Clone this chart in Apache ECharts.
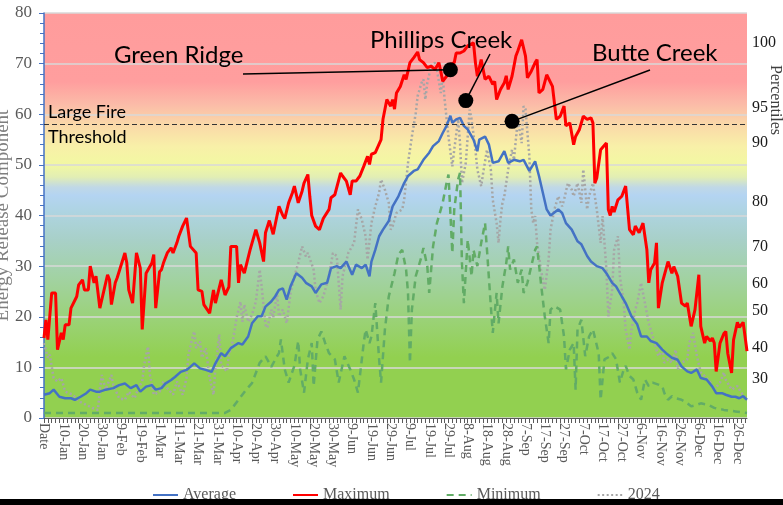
<!DOCTYPE html>
<html>
<head>
<meta charset="utf-8">
<script src="https://cdn.jsdelivr.net/npm/echarts@6/dist/echarts.min.js"></script>
<style>
  html, body { margin: 0; padding: 0; background: #fff; }
  #chart { width: 783px; height: 505px; }
</style>
</head>
<body>
<div id="chart"></div>
<script>
  // categories: first row is the "Date" header, then 1-Jan .. 31-Dec
  const monthNames = ['Jan', 'Feb', 'Mar', 'Apr', 'May', 'Jun', 'Jul', 'Aug', 'Sep', 'Oct', 'Nov', 'Dec'];
  const monthDays = [31, 28, 31, 30, 31, 30, 31, 31, 30, 31, 30, 31];
  const categories = ['Date'];
  monthDays.forEach((n, m) => {
    for (let d = 1; d <= n; d++) categories.push(d + '-' + monthNames[m]);
  });

  // [day index, ERC]
  const averagePts = [
    [0, 4.6], [3, 4.9], [5, 5.6], [8, 4.2], [11, 3.9], [14, 3.9], [16, 3.6], [19, 4.2], [22, 4.9], [24, 5.6],
    [27, 5.2], [29, 5.2], [32, 5.6], [36, 5.9], [39, 6.5], [42, 6.8], [45, 5.9], [48, 6.5], [50, 5.2], [53, 6.2],
    [56, 6.5], [58, 5.6], [61, 5.9], [63, 6.8], [66, 7.5], [68, 8.1], [71, 9.1], [74, 9.5], [76, 10.1], [78, 10.8],
    [81, 9.8], [84, 9.5], [87, 9.1], [89, 10.8], [92, 12.8], [94, 12.2], [97, 13.8], [101, 14.8], [103, 14.5], [106, 16.1],
    [108, 18.7], [111, 20.1], [113, 20.1], [115, 22.0], [118, 23.0], [120, 24.0], [122, 25.3], [124, 25.6], [126, 23.4], [128, 26.0],
    [131, 28.6], [134, 27.7], [136, 26.7], [139, 26.0], [141, 24.7], [144, 26.4], [147, 26.7], [149, 29.6], [152, 30.0], [154, 29.6],
    [157, 30.9], [160, 28.3], [162, 30.3], [165, 29.6], [167, 30.3], [169, 28.0], [170, 30.9], [172, 33.2], [174, 35.9], [176, 37.2],
    [179, 38.9], [181, 41.8], [184, 43.8], [187, 46.4], [189, 47.8], [192, 48.8], [194, 49.1], [197, 51.0], [200, 52.4], [202, 53.7],
    [205, 54.7], [207, 56.3], [209, 57.7], [211, 59.7], [212, 58.3], [214, 59.0], [216, 59.3], [218, 57.7], [220, 57.0], [223, 55.0],
    [225, 52.7], [226, 55.0], [229, 55.6], [231, 54.0], [233, 50.4], [236, 50.7], [239, 52.7], [241, 50.4], [242, 50.4], [244, 51.0],
    [247, 50.7], [249, 51.0], [252, 48.8], [255, 50.7], [257, 47.8], [259, 44.5], [261, 41.2], [263, 40.0], [267, 41.2], [269, 40.5],
    [271, 38.5], [274, 37.2], [277, 34.9], [279, 34.3], [282, 32.0], [284, 30.9], [287, 30.0], [290, 29.6], [292, 28.6], [295, 26.7],
    [297, 26.0], [300, 24.0], [302, 22.7], [305, 20.1], [308, 18.5], [310, 16.1], [313, 16.1], [315, 15.2], [318, 14.8], [321, 13.5],
    [323, 12.8], [326, 11.9], [329, 11.5], [331, 10.2], [334, 9.2], [336, 8.9], [339, 9.6], [341, 7.9], [344, 7.6], [347, 6.2],
    [349, 4.9], [352, 4.9], [354, 4.6], [357, 4.2], [359, 4.2], [361, 3.9], [363, 4.3], [365, 3.6]
  ];

  const maximumPts = [
    [0, 15.8], [1, 19.4], [2, 15.5], [4, 24.7], [6, 24.7], [7, 13.5], [8, 13.2], [9, 16.8], [10, 15.5], [11, 18.4],
    [13, 18.4], [14, 21.7], [17, 24.0], [18, 26.3], [20, 27.3], [21, 25.3], [23, 25.3], [24, 30.0], [25, 29.9], [26, 26.7],
    [27, 28.0], [29, 21.7], [30, 21.4], [33, 28.3], [34, 27.3], [35, 22.4], [37, 26.7], [38, 27.7], [42, 32.6], [43, 30.6],
    [44, 25.3], [46, 22.7], [48, 32.6], [50, 29.6], [51, 17.5], [53, 28.6], [56, 30.6], [57, 32.3], [58, 21.7], [60, 28.9],
    [61, 29.3], [62, 30.6], [63, 30.6], [64, 32.6], [66, 33.6], [67, 32.6], [69, 34.6], [70, 35.9], [71, 35.6], [72, 37.9],
    [74, 39.5], [76, 33.9], [77, 33.6], [79, 32.6], [80, 25.3], [82, 25.0], [83, 22.4], [84, 22.7], [86, 20.7], [88, 25.3],
    [89, 22.7], [90, 23.0], [92, 27.3], [94, 24.3], [96, 25.9], [97, 33.9], [100, 33.9], [101, 26.7], [102, 30.3], [104, 28.6],
    [107, 33.2], [110, 37.2], [112, 34.6], [114, 30.9], [115, 36.6], [117, 39.0], [119, 36.3], [121, 40.0], [122, 41.8], [124, 40.0],
    [125, 39.4], [127, 42.5], [129, 44.5], [130, 45.8], [132, 42.5], [134, 44.8], [135, 46.4], [137, 48.1], [138, 43.8], [139, 40.0],
    [141, 37.9], [143, 37.2], [145, 39.4], [148, 41.2], [149, 43.5], [151, 44.1], [154, 48.4], [155, 47.8], [157, 46.8], [159, 44.1],
    [160, 46.8], [162, 46.8], [164, 47.8], [166, 49.7], [168, 51.7], [169, 50.1], [170, 52.1], [172, 52.4], [173, 52.7], [175, 55.0],
    [176, 59.0], [178, 62.9], [180, 61.6], [181, 62.9], [182, 61.0], [183, 64.2], [185, 65.5], [187, 67.8], [188, 66.9], [190, 70.2],
    [192, 71.2], [194, 72.3], [195, 70.8], [197, 70.2], [199, 69.2], [201, 69.5], [203, 68.8], [205, 70.2], [206, 68.5], [207, 66.5],
    [209, 67.5], [211, 69.8], [213, 70.2], [214, 72.1], [216, 72.1], [218, 72.5], [220, 73.5], [221, 73.2], [223, 74.1], [224, 70.2],
    [225, 67.5], [227, 70.8], [229, 66.9], [231, 67.5], [233, 65.9], [234, 66.5], [235, 62.9], [237, 64.9], [239, 66.2], [240, 67.6],
    [241, 64.9], [243, 67.5], [245, 71.5], [246, 72.5], [248, 74.7], [250, 71.5], [251, 67.2], [253, 68.5], [255, 70.2], [256, 70.8],
    [257, 64.2], [259, 64.9], [261, 67.8], [262, 67.5], [264, 65.5], [266, 59.0], [267, 59.0], [268, 59.6], [270, 61.6], [271, 57.7],
    [273, 58.3], [275, 54.0], [276, 55.6], [278, 57.0], [280, 59.6], [282, 59.0], [284, 59.3], [285, 58.3], [286, 46.4], [287, 47.4],
    [289, 53.0], [292, 54.3], [293, 41.2], [294, 40.0], [295, 41.8], [296, 40.7], [298, 43.1], [300, 43.8], [302, 45.8], [304, 37.2],
    [306, 36.2], [307, 37.9], [309, 36.6], [311, 38.5], [313, 33.3], [314, 26.7], [315, 29.3], [317, 30.6], [318, 34.6], [319, 21.7],
    [321, 26.7], [324, 30.9], [326, 28.6], [327, 29.9], [329, 28.0], [331, 22.7], [333, 22.1], [334, 22.7], [336, 18.1], [338, 21.4],
    [340, 28.3], [341, 18.1], [343, 14.8], [344, 16.1], [346, 15.2], [347, 15.8], [348, 14.8], [349, 9.2], [351, 14.8], [353, 16.7],
    [354, 17.1], [355, 12.8], [357, 8.9], [358, 15.4], [360, 18.9], [361, 17.9], [363, 18.9], [365, 13.2]
  ];

  const minimumPts = [
    [0, 1.0], [20, 1.0], [40, 1.0], [60, 1.0], [80, 1.0], [94, 1.0], [97, 1.6], [101, 3.6], [105, 5.6], [108, 6.9],
    [112, 10.9], [115, 12.2], [118, 10.1], [121, 12.2], [122, 12.8], [123, 15.5], [125, 9.6], [127, 7.0], [130, 10.3], [132, 15.2],
    [133, 9.6], [135, 5.0], [137, 11.6], [139, 14.8], [140, 6.3], [142, 15.5], [144, 17.1], [146, 14.8], [148, 12.8], [151, 11.6],
    [153, 7.0], [156, 12.2], [159, 9.6], [161, 7.6], [163, 5.0], [166, 14.8], [167, 17.5], [169, 14.8], [170, 16.1], [172, 22.7],
    [174, 11.6], [175, 7.0], [177, 17.5], [179, 24.0], [182, 28.6], [184, 32.3], [186, 33.2], [188, 29.3], [189, 24.7], [190, 10.9],
    [191, 21.4], [193, 28.0], [196, 31.9], [197, 33.6], [199, 30.0], [200, 24.7], [202, 33.9], [204, 38.5], [207, 42.5], [209, 46.4],
    [210, 48.1], [212, 32.6], [213, 41.2], [215, 47.1], [216, 48.4], [217, 30.6], [218, 22.7], [220, 35.2], [222, 28.0], [223, 33.2],
    [225, 30.0], [227, 34.6], [229, 38.5], [230, 33.2], [232, 22.1], [233, 16.8], [235, 24.7], [236, 18.7], [238, 26.0], [240, 30.6],
    [241, 33.9], [242, 29.3], [244, 31.3], [246, 26.7], [248, 29.3], [249, 24.7], [251, 26.7], [253, 30.0], [255, 33.2], [256, 33.9],
    [258, 26.7], [260, 20.1], [262, 14.8], [263, 21.4], [265, 22.1], [268, 21.4], [270, 16.1], [271, 9.6], [273, 13.5], [275, 14.8],
    [276, 5.6], [277, 17.5], [279, 19.4], [281, 12.2], [283, 16.1], [285, 17.5], [288, 12.8], [289, 3.6], [291, 11.6], [294, 12.2],
    [295, 12.8], [297, 11.6], [299, 7.0], [301, 9.6], [302, 10.3], [304, 8.3], [306, 7.6], [308, 5.0], [310, 3.6], [312, 7.6],
    [314, 6.3], [316, 7.0], [319, 6.6], [321, 6.3], [322, 5.0], [324, 3.6], [326, 4.3], [328, 3.9], [331, 3.6], [334, 2.9],
    [336, 2.3], [339, 2.6], [341, 2.9], [345, 2.6], [348, 2.0], [353, 1.6], [359, 1.3], [365, 1.0]
  ];

  const year2024Pts = [
    [0, 14.8], [2, 11.9], [3, 12.5], [5, 7.9], [7, 7.2], [9, 7.9], [11, 5.2], [15, 4.6], [18, 3.3], [22, 2.6],
    [25, 2.0], [28, 1.6], [29, 5.6], [30, 8.5], [32, 5.6], [35, 8.5], [36, 6.5], [39, 3.9], [42, 3.6], [44, 5.2],
    [47, 3.9], [49, 5.9], [51, 7.2], [52, 10.5], [54, 14.1], [55, 8.5], [57, 4.6], [60, 5.2], [62, 7.2], [64, 5.9],
    [67, 4.6], [69, 7.2], [72, 4.6], [74, 7.9], [75, 12.5], [77, 15.8], [78, 17.1], [79, 13.8], [81, 15.1], [82, 11.9],
    [84, 13.8], [86, 7.9], [88, 4.6], [89, 9.8], [91, 16.5], [92, 10.5], [95, 9.2], [96, 12.5], [98, 15.1], [100, 19.8],
    [102, 23.0], [103, 19.0], [104, 22.4], [106, 19.0], [108, 20.4], [110, 23.0], [112, 29.3], [113, 26.0], [115, 18.4], [116, 17.8],
    [117, 17.5], [118, 21.4], [119, 19.8], [121, 24.7], [122, 20.1], [124, 21.4], [126, 18.7], [128, 24.7], [130, 28.0], [132, 30.6],
    [134, 33.9], [136, 31.9], [137, 32.6], [140, 29.3], [141, 25.3], [143, 22.7], [145, 24.0], [148, 28.0], [150, 32.6], [152, 32.0],
    [154, 21.4], [155, 28.0], [158, 32.6], [161, 34.6], [163, 41.2], [165, 39.2], [167, 35.9], [168, 31.3], [170, 38.5], [172, 41.8],
    [174, 44.5], [175, 47.1], [177, 45.1], [179, 42.5], [180, 37.2], [181, 37.9], [183, 40.5], [186, 41.2], [187, 43.1], [189, 50.4],
    [191, 55.6], [193, 60.2], [194, 63.6], [196, 66.2], [197, 66.9], [198, 62.9], [199, 66.2], [201, 69.5], [203, 70.2], [204, 68.8],
    [206, 64.2], [207, 67.5], [208, 62.9], [209, 62.9], [210, 55.6], [212, 49.7], [213, 53.0], [215, 59.0], [216, 54.3], [217, 46.4],
    [219, 50.4], [221, 60.9], [222, 59.0], [224, 53.0], [225, 49.1], [227, 45.8], [228, 48.4], [230, 53.0], [232, 49.1], [233, 43.1],
    [235, 38.5], [236, 34.6], [237, 39.2], [238, 42.5], [239, 43.8], [241, 49.1], [243, 53.0], [244, 51.0], [246, 59.0], [248, 54.3],
    [249, 61.6], [250, 61.0], [252, 51.7], [253, 41.2], [254, 38.5], [255, 39.9], [256, 34.6], [258, 29.3], [260, 25.3], [262, 31.3],
    [263, 37.2], [265, 41.2], [267, 43.8], [269, 41.8], [270, 43.1], [272, 46.4], [274, 45.1], [275, 43.8], [277, 46.4], [279, 42.5],
    [280, 49.1], [282, 41.2], [283, 43.8], [285, 46.4], [287, 41.2], [289, 34.6], [290, 39.9], [292, 29.3], [293, 20.1], [295, 25.3],
    [296, 33.2], [298, 35.9], [299, 28.0], [301, 22.7], [302, 17.5], [304, 13.5], [305, 17.5], [307, 21.4], [308, 22.7], [310, 26.7],
    [312, 22.7], [314, 18.7], [315, 17.5], [317, 14.8], [319, 12.2], [321, 13.5], [322, 10.9], [324, 11.6], [326, 10.9], [328, 13.5],
    [329, 9.6], [331, 10.9], [334, 11.6], [335, 14.8], [337, 16.8], [339, 12.2], [341, 9.0], [343, 8.3], [346, 7.0], [348, 5.6],
    [351, 7.0], [353, 9.0], [354, 7.6], [357, 5.6], [360, 6.3], [362, 5.0], [365, 3.6]
  ];

  // right-hand percentile scale: label and the ERC value it sits at
  const pctLabels = ['100', '95', '90', '80', '70', '60', '50', '40', '30'];
  const pctErc = [74.2, 61.3, 54.4, 42.8, 33.9, 26.5, 21.1, 13.9, 7.8];

  const threshold = 58;

  // fire markers [day index, ERC]
  const fireNames = ['Green Ridge', 'Phillips Creek', 'Butte Creek'];
  const firePts = [[211, 68.8], [219, 62.7], [243, 58.6]];

  const serif = 'Liberation Serif';
  const sans = 'Lato';

  const chart = echarts.init(document.getElementById('chart'));

  chart.setOption({
    animation: false,
    grid: {
      left: 44, right: 36, top: 13, bottom: 87,
      outerBoundsMode: 'none',
      containLabel: false,
      show: true,
      borderWidth: 0,
      backgroundColor: new echarts.graphic.LinearGradient(0, 0, 0, 1, [
        { offset: 0, color: '#FF9C9C' },
        { offset: 0.17, color: '#FF9E9E' },
        { offset: 0.225, color: '#FBBBA8' },
        { offset: 0.275, color: '#FAD8A8' },
        { offset: 0.33, color: '#F8F0A8' },
        { offset: 0.375, color: '#F2F8A2' },
        { offset: 0.405, color: '#E2EEB4' },
        { offset: 0.43, color: '#C0D8E6' },
        { offset: 0.45, color: '#B4D4F2' },
        { offset: 0.49, color: '#AED4E2' },
        { offset: 0.56, color: '#A8D0C8' },
        { offset: 0.65, color: '#A2D2A4' },
        { offset: 0.75, color: '#9BD27A' },
        { offset: 0.85, color: '#92D050' },
        { offset: 1, color: '#92D050' }
      ])
    },
    legend: {
      data: ['Average', 'Maximum', 'Minimum', '2024'],
      left: 147, top: 482,
      itemWidth: 25, itemHeight: 12, itemGap: 56,
      itemStyle: { opacity: 0 },
      textStyle: { fontFamily: serif, fontSize: 16, color: '#595959' }
    },
    xAxis: {
      type: 'category',
      data: categories,
      boundaryGap: false,
      axisLine: { lineStyle: { color: '#595959', width: 1 } },
      axisTick: { show: true, interval: 1, length: 5, lineStyle: { color: '#595959' } },
      axisLabel: {
        interval: 9, rotate: -90, margin: 5,
        fontFamily: serif, fontSize: 14, color: '#595959'
      },
      splitLine: { show: false }
    },
    yAxis: [
      {
        type: 'value', min: 0, max: 80, interval: 10,
        name: 'Energy Release Component',
        nameLocation: 'middle', nameGap: 31,
        nameMoveOverlap: false,
        nameTextStyle: { fontFamily: serif, fontSize: 19, color: '#7F7F7F' },
        axisLine: { show: true, lineStyle: { color: '#4472C4', width: 1.5 } },
        axisTick: { show: true, length: 5, lineStyle: { color: '#4472C4' } },
        minorTick: { show: true, splitNumber: 5, length: 4, lineStyle: { color: '#4472C4' } },
        axisLabel: { margin: 12, fontFamily: serif, fontSize: 17, color: '#595959' },
        splitLine: { show: true, lineStyle: { color: '#D9D9D9', width: 1.5 } }
      },
      {
        type: 'value', min: 0, max: 80, position: 'right',
        axisLine: { show: false },
        axisTick: { show: false },
        splitLine: { show: false },
        axisLabel: {
          customValues: pctErc,
          margin: 5,
          fontFamily: serif, fontSize: 16, color: '#1a1a1a',
          formatter: v => {
            const i = pctErc.indexOf(v);
            return i >= 0 ? pctLabels[i] : '';
          }
        }
      }
    ],
    series: [
      {
        name: '2024', type: 'line', data: year2024Pts, symbol: 'none', z: 2,
        itemStyle: { color: '#A6A6A6' },
        lineStyle: { color: '#A6A6A6', width: 2.5, type: [2, 2.5] }
      },
      {
        name: 'Minimum', type: 'line', data: minimumPts, symbol: 'none', z: 3,
        itemStyle: { color: '#62AC66' },
        lineStyle: { color: '#62AC66', width: 2.5, type: [7, 5] }
      },
      {
        name: 'Average', type: 'line', data: averagePts, symbol: 'none', z: 4,
        itemStyle: { color: '#4472C4' },
        lineStyle: { color: '#4472C4', width: 2.5 },
        markLine: {
          silent: true, symbol: 'none', label: { show: false },
          lineStyle: { color: '#333', width: 1, type: [5, 3] },
          data: [{ yAxis: threshold }]
        }
      },
      {
        name: 'Maximum', type: 'line', data: maximumPts, symbol: 'none', z: 5,
        itemStyle: { color: '#FF0000' },
        lineStyle: { color: '#FF0000', width: 3 }
      },
      {
        name: 'fires', type: 'scatter', data: firePts, symbolSize: 15, z: 10,
        itemStyle: { color: '#000', opacity: 1 }
      }
    ]
  });

  // annotation text + leader lines to the fire markers
  const textAnchors = [[243, 74], [490, 54], [650, 70]];
  const textPos = [[114, 55], [370, 40], [592, 53]];
  const graphics = [];
  firePts.forEach((p, i) => {
    const px = chart.convertToPixel({ xAxisIndex: 0, yAxisIndex: 0 }, p);
    graphics.push({
      type: 'line', z: 20,
      shape: { x1: textAnchors[i][0], y1: textAnchors[i][1], x2: px[0], y2: px[1] },
      style: { stroke: '#000', lineWidth: 1.5 }
    });
    graphics.push({
      type: 'text', z: 20, x: textPos[i][0], y: textPos[i][1],
      style: { text: fireNames[i], font: '24px ' + sans, fill: '#000', textVerticalAlign: 'middle' }
    });
  });
  graphics.push(
    { type: 'text', z: 20, x: 48, y: 112, style: { text: 'Large Fire', font: '18px ' + sans, fill: '#000', textVerticalAlign: 'middle' } },
    { type: 'text', z: 20, x: 48, y: 137, style: { text: 'Threshold', font: '18px ' + sans, fill: '#000', textVerticalAlign: 'middle' } },
    { type: 'text', z: 20, x: 775, y: 100, rotation: -Math.PI / 2,
      style: { text: 'Percentiles', font: '16px ' + serif, fill: '#404040', textAlign: 'center', textVerticalAlign: 'middle' } },
    { type: 'rect', z: 100, shape: { x: 0, y: 499, width: 783, height: 6 }, style: { fill: '#000' } }
  );
  chart.setOption({ graphic: graphics });
</script>
</body>
</html>
